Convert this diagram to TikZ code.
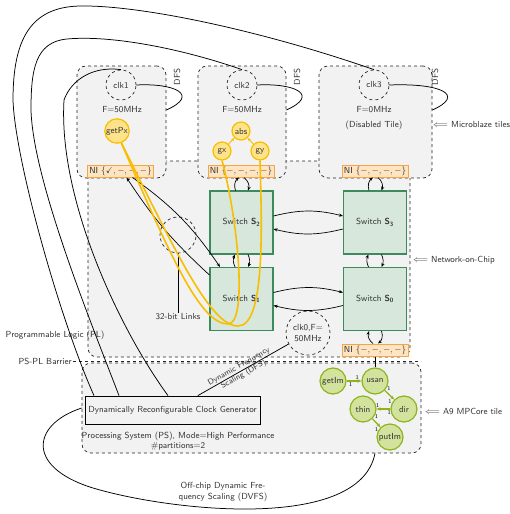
\documentclass[tikz,border=0pt]{standalone}
\usepackage{amssymb}
\usetikzlibrary{arrows.meta}
\definecolor{tilegray}{HTML}{F2F2F2}
\definecolor{txt}{HTML}{333333}
\definecolor{nifill}{HTML}{FFE4C2}
\definecolor{niorange}{HTML}{F5A446}
\definecolor{swfill}{HTML}{D7E7DC}
\definecolor{swgreen}{HTML}{3C8A5E}
\definecolor{yel}{HTML}{F8BE00}
\definecolor{yelfill}{HTML}{FFE38A}
\definecolor{grn}{HTML}{8DB31E}
\definecolor{grnfill}{HTML}{D3E39E}
\begin{document}
\begin{tikzpicture}[x=1pt,y=-1pt,
  font=\fontsize{8.8}{10.5}\selectfont\sffamily,
  region/.style={draw=black!85, dashed, fill=tilegray, rounded corners=9pt, line width=0.7pt, inner sep=0pt},
  clk/.style={circle, draw=black!85, dashed, line width=0.7pt, minimum size=30pt, inner sep=0pt, text=txt},
  ni/.style={draw=niorange, fill=nifill, line width=1pt, minimum width=66pt, minimum height=12pt, inner sep=1pt, text=txt},
  sw/.style={draw=swgreen, fill=swfill, line width=1.1pt, minimum width=63pt, minimum height=63pt, text=txt},
  lnk/.style={-{Stealth[length=4pt,width=3.2pt]}, line width=0.7pt},
  wire/.style={line width=0.75pt},
  ynode/.style={circle, draw=yel, fill=yelfill, line width=1.2pt, inner sep=0.5pt, minimum size=18pt, text=txt},
  gnode/.style={circle, draw=grn, fill=grnfill, line width=1.2pt, minimum size=26pt, inner sep=0pt, text=txt},
  yline/.style={draw=yel, line width=1.6pt},
  yarrow/.style={draw=yel, line width=0.9pt, -{Stealth[length=3.5pt,width=3pt]}},
  garrow/.style={draw=grn, line width=1.2pt, -{Stealth[length=4pt,width=3.4pt]}},
  lbl/.style={text=txt, inner sep=1pt},
  one/.style={font=\fontsize{6}{7}\selectfont\rmfamily, inner sep=0.6pt, text=black}
]
\useasboundingbox (0,0) rectangle (509,514);

% regions
\node[region, minimum width=322pt, minimum height=196pt] (noc) at (249,259) {};
\node[region, minimum width=339pt, minimum height=90pt] (ps) at (251.5,408) {};
\node[region, minimum width=89pt, minimum height=112pt] (t1) at (121.5,122) {};
\node[region, minimum width=88pt, minimum height=112pt] (t2) at (242,122) {};
\node[region, minimum width=113pt, minimum height=112pt] (t3) at (375.5,122) {};

% barrier
\node[lbl, anchor=east] (barrier) at (73,361) {PS-PL Barrier};
\coordinate (barrierEnd) at (421,361);
\draw[dashed, line width=0.7pt, black!85] (barrier.east) -- (barrierEnd);

% labels
\node[lbl] (pl) at (55,335) {Programmable Logic (PL)};
\node[lbl, anchor=west] (mblbl) at (432,124) {$\Longleftarrow$ Microblaze tiles};
\node[lbl, anchor=west] (noclbl) at (412,260) {$\Longleftarrow$ Network-on-Chip};
\node[lbl, anchor=west] (a9lbl) at (424,411) {$\Longleftarrow$ A9 MPCore tile};

% clocks in tiles
\node[clk] (clk1) at (121,85) {clk1};
\node[clk] (clk2) at (242,85) {clk2};
\node[clk] (clk3) at (374,85) {clk3};
\node[lbl] (f1) at (122,110) {F=50MHz};
\node[lbl] (f2) at (242,110) {F=50MHz};
\node[lbl] (f3) at (374,110) {F=0MHz};
\node[lbl] (dis) at (374,125) {(Disabled Tile)};
\node[lbl, rotate=90] (dfs1) at (177,77) {DFS};
\node[lbl, rotate=90] (dfs2) at (297,77) {DFS};
\node[lbl, rotate=90] (dfs3) at (435,77) {DFS};
\draw[wire] (clk1.east) .. controls (175,83) and (200,95) .. (t1.east |- f1);
\draw[wire] (clk2.east) .. controls (295,83) and (320,95) .. (t2.east |- f2);
\draw[wire] (clk3.east) .. controls (441,83) and (466,95) .. (t3.east |- f3);

% NIs
\node[ni] (ni1) at (120.5,171) {NI $\{\checkmark,-,-,-\}$};
\node[ni] (ni2) at (241,171) {NI $\{-,-,-,-\}$};
\node[ni] (ni3) at (375,171) {NI $\{-,-,-,-\}$};
\node[ni] (ni0) at (375,350) {NI $\{-,-,-,-\}$};

% switches
\node[sw] (s2) at (241.5,222.5) {Switch \textbf{S}\textsubscript{\textbf{2}}};
\node[sw] (s3) at (375,222.5) {Switch \textbf{S}\textsubscript{\textbf{3}}};
\node[sw] (s1) at (241.5,299) {Switch \textbf{S}\textsubscript{\textbf{1}}};
\node[sw] (s0) at (375,299) {Switch \textbf{S}\textsubscript{\textbf{0}}};

% switch links
\draw[lnk] ([yshift=6.5pt]s2.east) to[bend left=14] ([yshift=6.5pt]s3.west);
\draw[lnk] ([yshift=-6.5pt]s3.west) to[bend left=14] ([yshift=-6.5pt]s2.east);
\draw[lnk] ([yshift=6.5pt]s1.east) to[bend left=14] ([yshift=6.5pt]s0.west);
\draw[lnk] ([yshift=-6.5pt]s0.west) to[bend left=14] ([yshift=-6.5pt]s1.east);
\draw[lnk] ([xshift=-6.5pt]s1.north) to[bend left=25] ([xshift=-6.5pt]s2.south);
\draw[lnk] ([xshift=6.5pt]s2.south) to[bend left=25] ([xshift=6.5pt]s1.north);
\draw[lnk] ([xshift=-6.5pt]s0.north) to[bend left=25] ([xshift=-6.5pt]s3.south);
\draw[lnk] ([xshift=6.5pt]s3.south) to[bend left=25] ([xshift=6.5pt]s0.north);
% NI links
\draw[lnk] ([xshift=-6pt]s2.north) to[bend left=35] ([xshift=-2pt]ni2.south);
\draw[lnk] ([xshift=3pt]ni2.south) to[bend left=35] ([xshift=6.5pt]s2.north);
\draw[lnk] ([xshift=-6pt]s3.north) to[bend left=35] ([xshift=-2pt]ni3.south);
\draw[lnk] ([xshift=3pt]ni3.south) to[bend left=35] ([xshift=6.5pt]s3.north);
\draw[lnk] ([xshift=-2pt]ni0.north) to[bend left=35] ([xshift=-6pt]s0.south);
\draw[lnk] ([xshift=6.5pt]s0.south) to[bend left=35] ([xshift=3pt]ni0.north);
\draw[lnk] ([yshift=24pt]s1.west) to[bend left=7] ([xshift=6pt]ni1.south);
\draw[lnk] ([xshift=12pt]ni1.south) to[bend left=10] ([xshift=-21.5pt]s1.north);

% 32-bit links
\node[circle, draw=black!85, dashed, line width=0.7pt, minimum size=36pt] (links) at (178,235) {};
\node[lbl] (linkslbl) at (178,317) {32-bit Links};
\draw[wire] (links.south) -- (linkslbl.north);

% clk0
\node[clk, minimum size=44pt, align=center] (clk0) at (308,333) {clk0,F=\\50MHz};

% tile tasks
\node[ynode, minimum size=23pt] (getpx) at (117,131) {getPx};
\node[ynode] (abs) at (241,131) {abs};
\node[ynode] (gx) at (222,151) {gx};
\node[ynode] (gy) at (260,151) {gy};
\draw[yarrow] (gx) -- (abs);
\draw[yarrow] (gy) -- (abs);
\coordinate (u1) at (228,324);
\coordinate (u2) at (238,326);
\draw[yline] (getpx.-70) .. controls (170,255) and (200,324) .. (u1)
   .. controls (248,324) and (238,220) .. (gx.south);
\draw[yline] (getpx.-70) .. controls (175,250) and (210,326) .. (u2)
   .. controls (265,326) and (262,230) .. (gy.south);

% clock generator
\node[draw, line width=0.8pt, minimum width=171pt, minimum height=28pt, text=txt] (gen) at (172.5,410) {Dynamically Reconfigurable Clock Generator};
\node[lbl, align=center] (pslbl) at (178,441) {Processing System (PS), Mode=High Performance\\\#partitions=2};
\draw[wire] (clk0) -- node[sloped, align=center, text=txt, inner sep=1pt, font=\fontsize{8}{9.2}\selectfont\sffamily, pos=0.52] (dfslbl) {Dynamic Frequency\\Scaling (DFS)} (gen);

% long clock wires
\draw[wire] (clk3.north) .. controls (260,30) and (140,5) .. (80,6)
  .. controls (30,7) and (13,40) .. (13,100)
  .. controls (15,160) and (60,320) .. ([xshift=-78.5pt]gen.north);
\draw[wire] (clk2.north) .. controls (180,48) and (110,35) .. (67,39)
  .. controls (35,42) and (31,70) .. (31,110)
  .. controls (33,180) and (90,320) .. ([xshift=-53.5pt]gen.north);
\draw[wire] (clk1.north) .. controls (95,66) and (72,78) .. (64,100)
  .. controls (58,200) and (120,330) .. ([xshift=-4.5pt]gen.north);

% A9 graph
\node[gnode] (getim) at (333,381) {getIm};
\node[gnode] (usan) at (375,381) {usan};
\node[gnode] (dir) at (404,409) {dir};
\node[gnode] (thin) at (363,409) {thin};
\node[gnode] (putim) at (390,437) {putIm};
\draw[garrow] (getim) -- node[one, pos=0.08, below right] (l1) {1} node[one, pos=0.92, above left] (l2) {1} (usan);
\draw[garrow] (usan) -- node[one, pos=0.12, above right] (l3) {1} node[one, pos=0.88, below left] (l4) {1} (dir);
\draw[garrow] (dir) -- node[one, pos=0.08, below] (l5) {1} node[one, pos=0.92, above] (l6) {1} (thin);
\draw[garrow] (thin) -- node[one, pos=0.12, above right] (l7) {1} node[one, pos=0.88, below left] (l8) {1} (putim);
\draw[wire] (ni0.south) -- (usan.north);

% off-chip DVFS
\coordinate (dvfsEnd) at (ps.south -| usan);
\draw[wire] (ps.west) .. controls (30,425) and (25,470) .. (100,490)
  .. controls (180,512) and (360,530) .. (dvfsEnd);
\node[lbl, align=center] (dvfs) at (223,492) {Off-chip Dynamic Fre-\\quency Scaling (DVFS)};
\end{tikzpicture}
\end{document}
